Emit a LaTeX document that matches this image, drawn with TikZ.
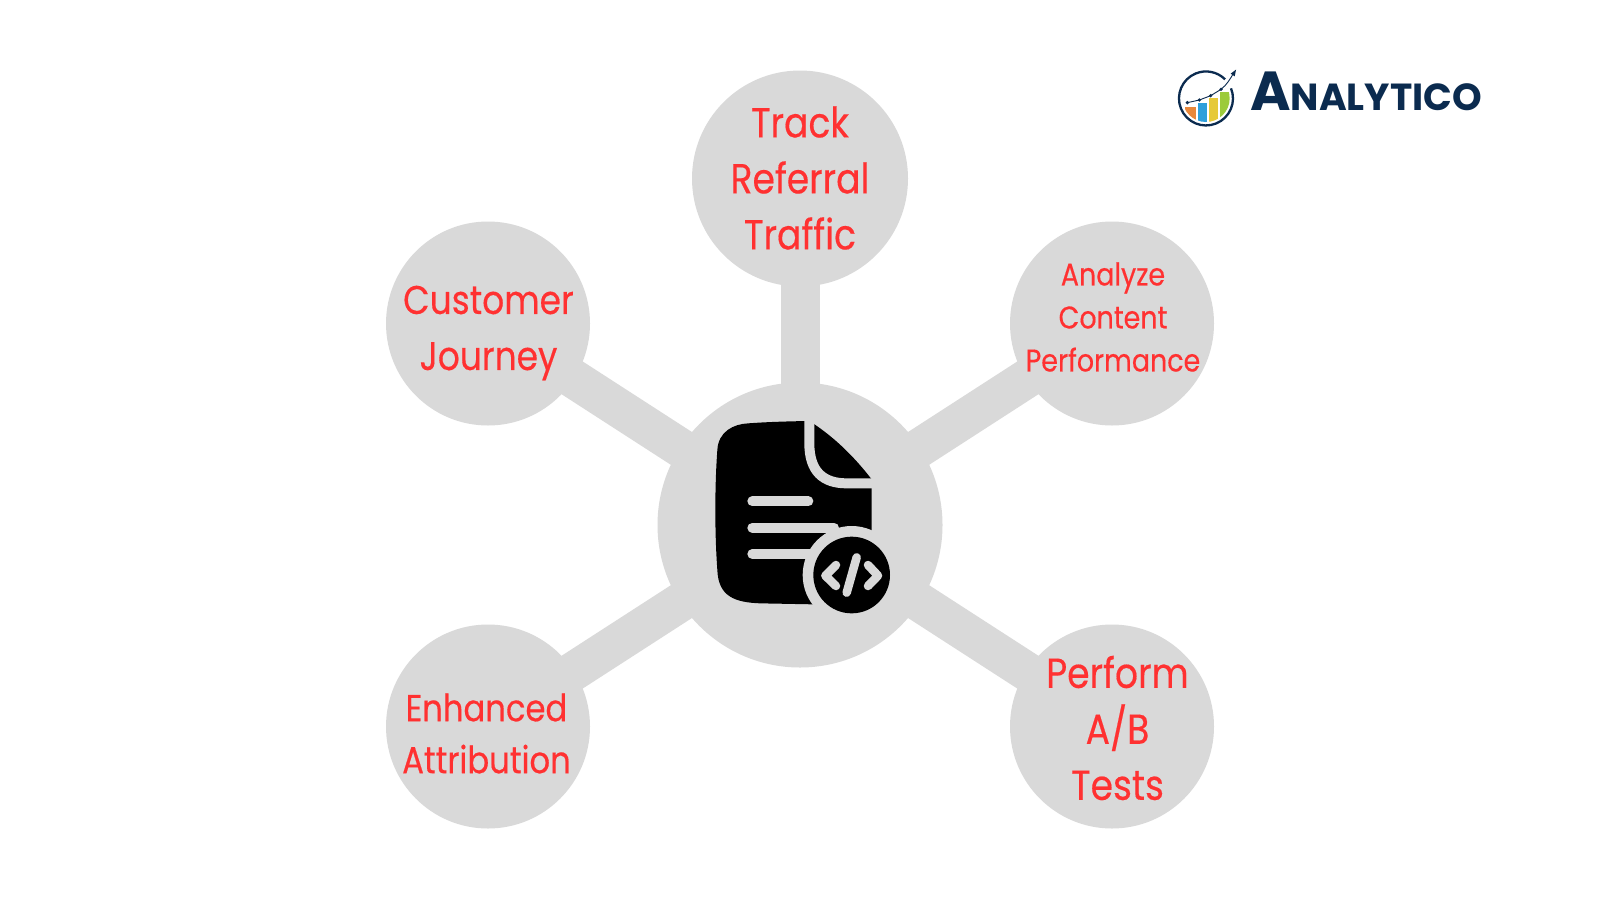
\documentclass[tikz,border=0pt]{standalone}
\usepackage{fontspec}
\setmainfont{Poppins}
\newfontfamily\labelfont[FakeStretch=0.86,FakeBold=0.35]{Poppins}
\begin{document}
\begin{tikzpicture}[x=1pt,y=-1pt,
  disc/.style={circle,fill=discgray,draw=none,inner sep=0pt},
  spoke/.style={draw=discgray,line width=39pt,shorten <=-5pt,shorten >=-5pt},
  caption/.style n args={2}{text=labelred,align=center,inner sep=0pt,text width=200pt,font=\labelfont\fontsize{#1}{#2}\selectfont},
  sheetmark/.style={draw=discgray,line cap=round,line width=10pt},
  codemark/.style={draw=discgray,line cap=round,line join=round,line width=8.5pt}]
\definecolor{discgray}{HTML}{D9D9D9}
\definecolor{labelred}{HTML}{FF3131}
\definecolor{navy}{HTML}{0B2B4F}
\definecolor{barorange}{HTML}{E8873A}
\definecolor{barblue}{HTML}{2E9FDB}
\definecolor{baryellow}{HTML}{E6C93A}
\definecolor{bargreen}{HTML}{9CCB3B}
\useasboundingbox[fill=white] (0,0) rectangle (1600,900);

% hub and the five outer discs
\node[disc,minimum size=285pt] (hub) at (800,525) {};
\node[disc,minimum size=216pt] (top) at (800,178.5) {};
\node[disc,minimum size=204pt] (nw) at (488,323.5) {};
\node[disc,minimum size=204pt] (ne) at (1112,323.5) {};
\node[disc,minimum size=204pt] (sw) at (488,726.5) {};
\node[disc,minimum size=204pt] (se) at (1112,726.5) {};

% spokes
\draw[spoke] (hub) -- (top);
\draw[spoke] (hub) -- (nw);
\draw[spoke] (hub) -- (ne);
\draw[spoke] (hub) -- (sw);
\draw[spoke] (hub) -- (se);

% captions
\node[caption={42}{56}] (toptext) at (800,178) {Track\\Referral\\Traffic};
\node[caption={40}{56}] (nwtext) at (488.5,333) {Customer\\Journey};
\node[caption={31.3}{43}] (netext) at (1113,317) {Analyze\\Content\\Performance};
\node[caption={37.5}{52}] (swtext) at (486.5,733.5) {Enhanced\\Attribution};
\node[caption={42}{56}] (setext) at (1117.5,728) {Perform\\A/B\\Tests};

% document icon with code badge
\begin{scope}[shift={(680,400)},x=0.33333pt,y=-0.33333pt]
  \fill[black] (388,63) .. controls (470,115) and (530,180) .. (575,238)
    -- (575,400) -- (400,613) -- (240,610)
    .. controls (165,607) and (115,590) .. (112,510)
    .. controls (104,400) and (104,260) .. (112,150)
    .. controls (115,95) and (160,72) .. (205,70)
    .. controls (260,66) and (320,64) .. (388,63) -- cycle;
  \draw[draw=discgray,line width=10pt] (388,55) -- (388,130)
    .. controls (388,215) and (430,250) .. (500,250) -- (585,250);
  \draw[sheetmark] (217,304) -- (385,304);
  \draw[sheetmark] (217,383) -- (462,383);
  \draw[sheetmark] (217,462) -- (420,462);
  \fill[discgray] (515,525) circle[radius=147];
  \fill[black] (515,525) circle[radius=115];
  \draw[codemark] (468,495) -- (436,527) -- (468,558);
  \draw[codemark] (564,495) -- (594,527) -- (564,558);
  \draw[codemark] (530,472) -- (500,578);
\end{scope}

% logo mark: ring, rising bars and trend arrow
\begin{scope}[shift={(1160,55)},x=0.33333pt,y=-0.33333pt]
  \begin{scope}
    \clip (138,130) circle[radius=71];
    \fill[barorange] (76,155) rectangle (108,210);
    \fill[barblue] (113,143) rectangle (141,210);
    \fill[baryellow] (147,128) rectangle (175,210);
    \fill[bargreen] (180,110) rectangle (210,210);
  \end{scope}
  \draw[navy,line width=2.3pt] (213,100) arc[start angle=-22,end angle=315,radius=81];
  \draw[navy,line width=0.9pt] (82,143) -- (118,135) -- (152,122) -- (183,103)
    .. controls (200,90) and (212,70) .. (222,52);
  \fill[navy] (228,44) -- (224,64) -- (212,56) -- cycle;
  \foreach \px/\py in {82/143,118/135,152/122,183/103}
    \fill[navy] (\px,\py) circle[radius=5.5];
\end{scope}

% logo wordmark
\node[anchor=base west,inner sep=0pt,text=navy,font=\bfseries] (wordmark) at (1250,110)
  {\fontsize{55}{55}\selectfont A\fontsize{37.7}{37}\selectfont NALYTICO};
\end{tikzpicture}
\end{document}
